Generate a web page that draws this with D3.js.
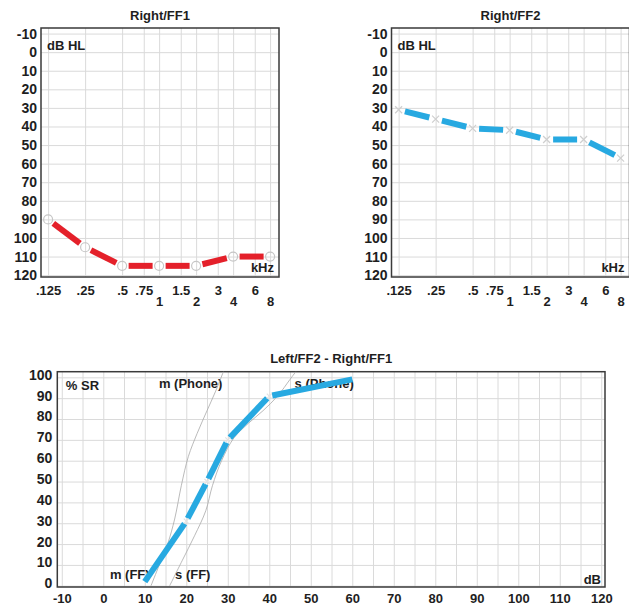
<!DOCTYPE html>
<html>
<head>
<meta charset="utf-8">
<script src="https://cdn.jsdelivr.net/npm/d3@7"></script>
<style>
  body { margin: 0; background: #fff; }
  svg text { font-family: "Liberation Sans", Arial, sans-serif; font-weight: bold; fill: #1e1e1e; }
</style>
</head>
<body>
<div id="chart"></div>
<script>
"use strict";

// audiogram data (kHz / dB HL)
var freqTicks = [0.125, 0.25, 0.5, 0.75, 1, 1.5, 2, 3, 4, 6, 8];
var freqLabels = [".125", ".25", ".5", ".75", "1", "1.5", "2", "3", "4", "6", "8"];
var dbTicks = [-10, 0, 10, 20, 30, 40, 50, 60, 70, 80, 90, 100, 110, 120];
var testFreqs = [0.125, 0.25, 0.5, 1, 2, 4, 8];
var ff1Values = [90, 105, 115, 115, 115, 110, 110];
var ff2Values = [31, 36, 41, 42, 47, 47, 57];

// speech recognition data (dB / % SR)
var levelTicks = [-10, 0, 10, 20, 30, 40, 50, 60, 70, 80, 90, 100, 110, 120];
var scoreTicks = [0, 10, 20, 30, 40, 50, 60, 70, 80, 90, 100];
var srLevels = [10, 20, 25, 30, 40, 60];
var srScores = [2, 31, 50, 70, 91, 99];
var mLevels = [11.5, 13.5, 15.5, 17.2, 18.8, 20.5, 22.6, 25, 27, 29];
var mScores = [0, 10, 20, 32, 48, 62, 73, 84, 93, 103];
var sLevels = [16, 19, 22, 24.7, 26.3, 28.5, 31.5, 35, 38.5, 42, 45, 46.5];
var sScores = [0, 12, 24, 36, 48, 60, 71, 78, 84, 91, 99, 103];

var width = 629;
var height = 605;
var gridColor = "#dadada";
var frameColor = "#3a3a3a";

var svg = d3.select("#chart")
  .append("svg")
    .attr("width", width)
    .attr("height", height);

svg.append("rect").attr("width", width).attr("height", height).attr("fill", "#fff");

// draw a polyline as separate segments cut back around the markers
function drawSegments(g, pts, trim, color, first_trim, last_trim) {
  for (let i = 0; i < pts.length - 1; i++) {
    let p0 = pts[i], p1 = pts[i + 1];
    let dx = p1[0] - p0[0], dy = p1[1] - p0[1];
    let len = Math.hypot(dx, dy);
    let ux = dx / len, uy = dy / len;
    let t0 = i == 0 ? first_trim : trim;
    let t1 = i == pts.length - 2 ? last_trim : trim;
    g.append("line")
      .attr("x1", p0[0] + ux * t0)
      .attr("y1", p0[1] + uy * t0)
      .attr("x2", p1[0] - ux * t1)
      .attr("y2", p1[1] - uy * t1)
      .attr("stroke", color)
      .attr("stroke-width", 6)
      .attr("stroke-linecap", "butt");
  }
}

function drawCross(g, cx, cy, s, color) {
  g.append("path")
    .attr("d", "M" + (cx - s) + "," + (cy - s) + "L" + (cx + s) + "," + (cy + s) +
               "M" + (cx - s) + "," + (cy + s) + "L" + (cx + s) + "," + (cy - s))
    .attr("stroke", color)
    .attr("stroke-width", 1.2)
    .attr("fill", "none");
}

function drawAudiogram(left, title, values, color, marker) {
  var top = 28, bottom = 277, right = left + 238;

  var x = d3.scaleLog().base(2)
    .domain([0.1094, 9.45])
    .range([left, right]);
  var y = d3.scaleLinear()
    .domain([-13, 121])
    .range([top, bottom]);

  var g = svg.append("g");

  // grid
  g.append("g")
    .attr("transform", "translate(0," + top + ")")
    .call(d3.axisBottom(x).tickValues(freqTicks).tickSize(bottom - top).tickFormat(""))
    .call(s => s.select(".domain").remove())
    .selectAll("line").attr("stroke", gridColor);
  g.append("g")
    .attr("transform", "translate(" + left + ",0)")
    .call(d3.axisRight(y).tickValues(dbTicks).tickSize(right - left).tickFormat(""))
    .call(s => s.select(".domain").remove())
    .selectAll("line").attr("stroke", gridColor);

  // y labels
  g.append("g")
    .attr("transform", "translate(" + left + ",0)")
    .call(d3.axisLeft(y).tickValues(dbTicks).tickSize(0).tickPadding(4)
      .tickFormat(d => String(d)))
    .call(s => s.select(".domain").remove())
    .selectAll("text").style("font-size", "14px");

  // x labels, whole octaves from 1 kHz sit on a second row
  g.append("g")
    .attr("transform", "translate(0," + bottom + ")")
    .call(d3.axisBottom(x).tickValues(freqTicks).tickSize(0)
      .tickFormat((d, i) => freqLabels[i]))
    .call(s => s.select(".domain").remove())
    .selectAll("text")
      .style("font-size", "13px")
      .attr("y", d => (d >= 1 && Number.isInteger(Math.log2(d))) ? 20 : 8.5)
      .attr("dy", "0.71em");

  g.append("rect")
    .attr("x", left).attr("y", top)
    .attr("width", right - left).attr("height", bottom - top)
    .attr("fill", "none")
    .attr("stroke", frameColor)
    .attr("stroke-width", 1.5);

  g.append("text")
    .attr("x", (left + right) / 2).attr("y", 15).attr("dy", "0.35em")
    .attr("text-anchor", "middle")
    .style("font-size", "13px")
    .text(title);
  g.append("text")
    .attr("x", left + 6).attr("y", top + 17).attr("dy", "0.35em")
    .style("font-size", "13px")
    .text("dB HL");
  g.append("text")
    .attr("x", right - 5).attr("y", bottom - 10).attr("dy", "0.35em")
    .attr("text-anchor", "end")
    .style("font-size", "13px")
    .text("kHz");

  var pts = testFreqs.map((f, i) => [x(f), y(values[i])]);
  drawSegments(g, pts, 6.5, color, 6.5, 6.5);

  pts.forEach(function(p) {
    if (marker == "circle") {
      g.append("circle")
        .attr("cx", p[0]).attr("cy", p[1]).attr("r", 4.5)
        .attr("fill", "none")
        .attr("stroke", "#c6c6c6")
        .attr("stroke-width", 1.2);
    } else {
      drawCross(g, p[0], p[1], 3.5, "#cfcfcf");
    }
  });
}

drawAudiogram(41, "Right/FF1", ff1Values, "#e4202a", "circle");
drawAudiogram(391.5, "Right/FF2", ff2Values, "#27a9e1", "cross");

// speech recognition chart
(function() {
  var left = 57.3, right = 605, top = 371.7, bottom = 587;

  var x = d3.scaleLinear()
    .domain([-11.08, 120.9])
    .range([left, right]);
  var y = d3.scaleLinear()
    .domain([-0.6, 102.7])
    .range([bottom, top]);

  var g = svg.append("g");

  g.append("defs").append("clipPath").attr("id", "srclip")
    .append("rect")
      .attr("x", left).attr("y", top)
      .attr("width", right - left).attr("height", bottom - top);

  g.append("g")
    .attr("transform", "translate(0," + top + ")")
    .call(d3.axisBottom(x).tickValues(d3.range(-10, 121, 5)).tickSize(bottom - top).tickFormat(""))
    .call(s => s.select(".domain").remove())
    .selectAll("line").attr("stroke", gridColor);
  g.append("g")
    .attr("transform", "translate(" + left + ",0)")
    .call(d3.axisRight(y).tickValues(scoreTicks).tickSize(right - left).tickFormat(""))
    .call(s => s.select(".domain").remove())
    .selectAll("line").attr("stroke", gridColor);

  g.append("g")
    .attr("transform", "translate(" + left + ",0)")
    .call(d3.axisLeft(y).tickValues(scoreTicks).tickSize(0).tickPadding(5))
    .call(s => s.select(".domain").remove())
    .selectAll("text")
      .style("font-size", "14px")
      .attr("y", -2.5);

  g.append("g")
    .attr("transform", "translate(0," + bottom + ")")
    .call(d3.axisBottom(x).tickValues(levelTicks).tickSize(0)
      .tickFormat(d => String(d)))
    .call(s => s.select(".domain").remove())
    .selectAll("text")
      .style("font-size", "13px")
      .attr("y", 6.5)
      .attr("dy", "0.71em");

  g.append("rect")
    .attr("x", left).attr("y", top)
    .attr("width", right - left).attr("height", bottom - top)
    .attr("fill", "none")
    .attr("stroke", frameColor)
    .attr("stroke-width", 1.5);

  g.append("text")
    .attr("x", (left + right) / 2).attr("y", 358).attr("dy", "0.35em")
    .attr("text-anchor", "middle")
    .style("font-size", "13px")
    .text("Left/FF2 - Right/FF1");
  g.append("text")
    .attr("x", left + 8.5).attr("y", top + 14).attr("dy", "0.35em")
    .style("font-size", "13px")
    .text("% SR");
  g.append("text")
    .attr("x", right - 4).attr("y", bottom - 8).attr("dy", "0.35em")
    .attr("text-anchor", "end")
    .style("font-size", "13px")
    .text("dB");

  // curve labels
  var labels = [
    {t: "m (Phone)", lv: 13.4, sc: 97.3},
    {t: "s (Phone)", lv: 46.1, sc: 97.3},
    {t: "m (FF)", lv: 1.6, sc: 5.2},
    {t: "s (FF)", lv: 17.3, sc: 5.2}
  ];
  g.selectAll("curveLabels")
    .data(labels)
    .enter()
    .append("text")
      .attr("x", d => x(d.lv))
      .attr("y", d => y(d.sc))
      .attr("dy", "0.35em")
      .style("font-size", "13px")
      .text(d => d.t);

  // reference curves
  var curve = d3.line()
    .x(d => x(d[0]))
    .y(d => y(d[1]))
    .curve(d3.curveCatmullRom);
  [d3.zip(mLevels, mScores), d3.zip(sLevels, sScores)].forEach(function(c) {
    g.append("path")
      .attr("d", curve(c))
      .attr("clip-path", "url(#srclip)")
      .attr("fill", "none")
      .attr("stroke", "#a8a8a8")
      .attr("stroke-width", 0.8);
  });

  var pts = srLevels.map((lv, i) => [x(lv), y(srScores[i])]);
  drawSegments(g, pts, 3, "#27a9e1", 0, 0);
  pts.slice(1, -1).forEach(p => drawCross(g, p[0], p[1], 2.5, "#e2e2e2"));
})();
</script>
</body>
</html>
